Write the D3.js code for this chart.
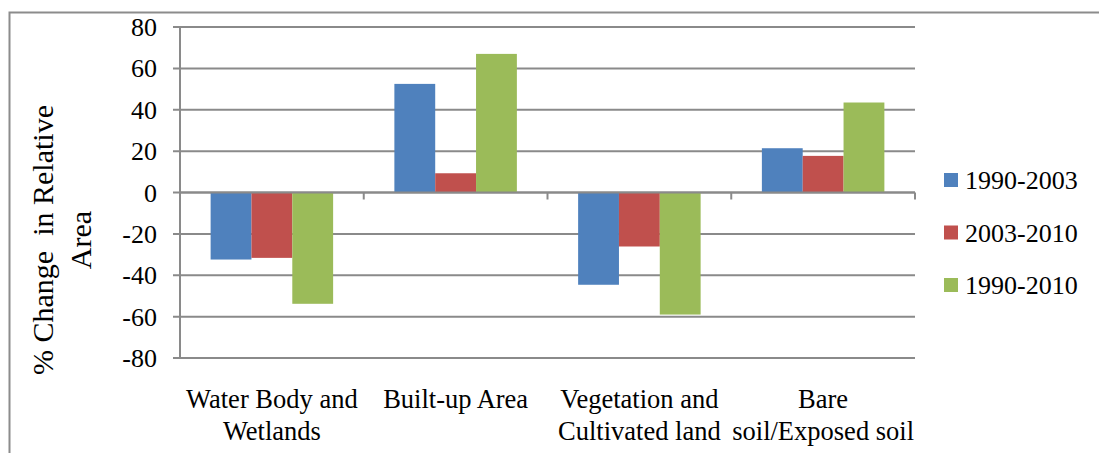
<!DOCTYPE html>
<html>
<head>
<meta charset="utf-8">
<script src="https://cdn.jsdelivr.net/npm/d3@7"></script>
<style>
  body { margin: 0; background: #fff; }
  text { font-family: "Liberation Serif", "Times New Roman", serif; fill: #000; }
</style>
</head>
<body>
<div id="chart"></div>
<script>
// chart size
var svgWidth = 1099;
var svgHeight = 453;

// data
var categories = [
  ["Water Body and", "Wetlands"],
  ["Built-up Area"],
  ["Vegetation and", "Cultivated land"],
  ["Bare", "soil/Exposed soil"]
];
var seriesNames = ["1990-2003", "2003-2010", "1990-2010"];
var v19902003 = [-32.4, 52.5, -44.6, 21.4];
var v20032010 = [-31.6, 9.3, -26.1, 17.7];
var v19902010 = [-53.8, 67.0, -59.0, 43.5];
var yTicks = [80, 60, 40, 20, 0, -20, -40, -60, -80];
var colors = ["#4F81BD", "#C0504D", "#9BBB59"];

var series = [v19902003, v20032010, v19902010];

var margin = { top: 27, left: 180, right: 184, bottom: 95 };
var width = 915 - margin.left;
var height = 358 - margin.top;

var svg = d3.select("#chart")
  .append("svg")
  .attr("width", svgWidth)
  .attr("height", svgHeight);

// outer frame (runs off right and bottom)
svg.append("rect")
  .attr("x", 9.5)
  .attr("y", 12.5)
  .attr("width", 1200)
  .attr("height", 600)
  .attr("fill", "none")
  .attr("stroke", "#8c8c8c")
  .attr("stroke-width", 2);

var chartGroup = svg.append("g")
  .attr("transform", `translate(${margin.left}, ${margin.top})`);

var x0 = d3.scaleBand()
  .domain(d3.range(categories.length))
  .range([0, width])
  .paddingInner(0)
  .paddingOuter(0);

var x1 = d3.scaleBand()
  .domain(d3.range(series.length))
  .range([0, x0.bandwidth()])
  .paddingOuter(0.75)
  .paddingInner(0);

var y = d3.scaleLinear()
  .domain([-80, 80])
  .range([height, 0]);

// gridlines
chartGroup.append("g")
  .selectAll("line")
  .data(yTicks)
  .enter()
  .append("line")
  .attr("x1", -7)
  .attr("x2", width)
  .attr("y1", d => y(d))
  .attr("y2", d => y(d))
  .attr("stroke", "#8a8a8a")
  .attr("stroke-width", 2);

// y axis
var leftAxis = d3.axisLeft(y)
  .tickValues(yTicks)
  .tickFormat(d => String(d))
  .tickSize(0)
  .tickPadding(23);
var yAxis = chartGroup.append("g").call(leftAxis);
yAxis.select(".domain").remove();
yAxis.selectAll("text")
  .attr("font-size", 26)
  .attr("dy", "0.33em")
  .attr("fill", "#000");

chartGroup.append("line")
  .attr("x1", 0).attr("x2", 0)
  .attr("y1", 0).attr("y2", height)
  .attr("stroke", "#8a8a8a")
  .attr("stroke-width", 2);

// bars
series.forEach(function(vals, si) {
  chartGroup.append("g")
    .selectAll("rect")
    .data(vals)
    .enter()
    .append("rect")
    .attr("x", (d, i) => x0(i) + x1(si))
    .attr("width", x1.bandwidth())
    .attr("y", d => y(Math.max(0, d)))
    .attr("height", d => Math.abs(y(d) - y(0)))
    .attr("fill", colors[si]);
});

// zero line with category ticks
chartGroup.append("line")
  .attr("x1", 0).attr("x2", width)
  .attr("y1", y(0)).attr("y2", y(0))
  .attr("stroke", "#8a8a8a")
  .attr("stroke-width", 2);

chartGroup.append("g")
  .selectAll("line")
  .data(d3.range(1, categories.length + 1))
  .enter()
  .append("line")
  .attr("x1", d => x0.step() * d)
  .attr("x2", d => x0.step() * d)
  .attr("y1", y(0))
  .attr("y2", y(0) + 7)
  .attr("stroke", "#8a8a8a")
  .attr("stroke-width", 2);

// category labels
var catLabels = chartGroup.append("g")
  .selectAll("text")
  .data(categories)
  .enter()
  .append("text")
  .attr("text-anchor", "middle")
  .attr("font-size", 26.5)
  .attr("transform", (d, i) => `translate(${x0(i) + x0.bandwidth() / 2}, ${408 - margin.top})`);

catLabels.selectAll("tspan")
  .data(d => d)
  .enter()
  .append("tspan")
  .attr("x", 0)
  .attr("dy", (d, i) => i === 0 ? 0 : 32)
  .text(d => d);

// y axis title
var yTitle = svg.append("text")
  .attr("text-anchor", "middle")
  .attr("font-size", 30)
  .style("white-space", "pre")
  .attr("transform", "translate(53, 240) rotate(-90)");
yTitle.append("tspan").attr("x", 0).attr("dy", 0).text("% Change  in Relative");
yTitle.append("tspan").attr("x", 0).attr("dy", 38).text("Area");

// legend
var legend = svg.append("g")
  .selectAll("g")
  .data(seriesNames)
  .enter()
  .append("g")
  .attr("transform", (d, i) => `translate(944, ${173 + i * 52.5})`);

legend.append("rect")
  .attr("width", 14)
  .attr("height", 14)
  .attr("fill", (d, i) => colors[i]);

legend.append("text")
  .attr("x", 21)
  .attr("y", 16)
  .attr("font-size", 26)
  .text(d => d);
</script>
</body>
</html>
